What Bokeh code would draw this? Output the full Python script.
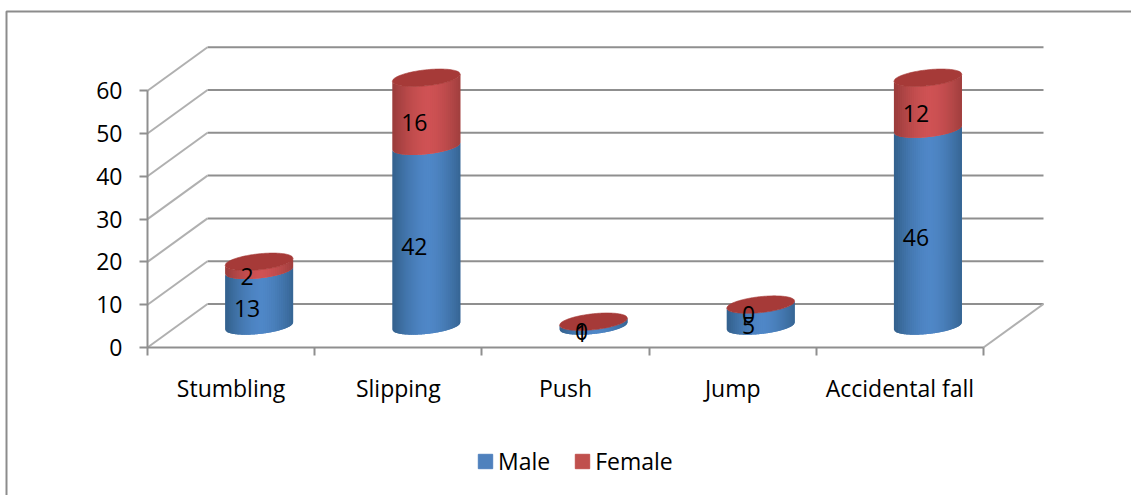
import numpy as np
from bokeh.core.properties import value
from bokeh.embed import file_html
from bokeh.models import ColumnDataSource, FixedTicker, Legend, LegendItem, Range1d
from bokeh.plotting import figure
from bokeh.resources import INLINE

categories = ["Stumbling", "Slipping", "Push", "Jump", "Accidental fall"]
male = [13, 42, 1, 5, 46]
female = [2, 16, 0, 0, 12]
y_ticks = [0, 10, 20, 30, 40, 50, 60]

FONT = "Open Sans"
TEXT_SIZE = "23px"
GRID = "#8f8f8f"

# Plot scale: pixels per category and per unit of value.
W, H = 1131, 495
LEFT, BOTTOM = 147, 148
PX_X = 167.2
PX_Y = 4.28

# Depth of the box, in data units.
DEPTH_X = 60 / PX_X
DEPTH_Y = 43.5 / PX_Y

# Cylinder geometry, in data units.
CYL_A = 34 / PX_X
CYL_B = 8 / PX_Y
CYL_TILT = 3.5 / PX_Y
CYL_X = 0.5 + 28 / PX_X
CYL_BASE = 21.5 / PX_Y

p = figure(
    width=W, height=H, output_backend="svg", toolbar_location=None,
    x_range=Range1d(-LEFT / PX_X, (W - LEFT) / PX_X),
    y_range=Range1d(-BOTTOM / PX_Y, (H - BOTTOM) / PX_Y),
    min_border=0, outline_line_color=None,
    background_fill_color="white", border_fill_color="white",
)
p.grid.visible = False

# Axes pinned to the front edge of the box.
xa, ya = p.xaxis[0], p.yaxis[0]
n = len(categories)
xa.fixed_location = 0
ya.fixed_location = 0
xa.ticker = FixedTicker(ticks=[i + 0.5 for i in range(n)], minor_ticks=list(range(n + 1)))
xa.major_label_overrides = {i + 0.5: c for i, c in enumerate(categories)}
xa.bounds = (0, n)
xa.major_tick_line_color = None
xa.major_tick_in, xa.major_tick_out = 0, 0
xa.minor_tick_in, xa.minor_tick_out = 0, 8
xa.minor_tick_line_color = GRID
xa.minor_tick_line_width = 2
xa.major_label_standoff = 16
ya.ticker = FixedTicker(ticks=y_ticks)
ya.bounds = (0, 60)
ya.major_tick_in, ya.major_tick_out = 0, 8
ya.major_tick_line_color = GRID
ya.major_tick_line_width = 2
ya.minor_tick_line_color = None
ya.major_label_standoff = 17
for ax in (xa, ya):
    ax.axis_line_color = GRID
    ax.axis_line_width = 2
    ax.major_label_text_font = FONT
    ax.major_label_text_font_size = TEXT_SIZE
    ax.major_label_text_color = "black"

# Back wall, side wall and floor.
yt = np.array(y_ticks, dtype=float)
p.segment(x0=DEPTH_X, x1=n + DEPTH_X, y0=yt + DEPTH_Y, y1=yt + DEPTH_Y, line_color=GRID, line_width=2)
p.segment(x0=0, x1=DEPTH_X, y0=yt, y1=yt + DEPTH_Y, line_color="#b0b0b0", line_width=2)
p.segment(x0=[n], x1=[n + DEPTH_X], y0=[0], y1=[DEPTH_Y], line_color="#b0b0b0", line_width=2)


def hex_mix(a, b, f):
    ca = [int(a[i:i + 2], 16) for i in (1, 3, 5)]
    cb = [int(b[i:i + 2], 16) for i in (1, 3, 5)]
    return "#%02x%02x%02x" % tuple(round(u + (v - u) * f) for u, v in zip(ca, cb))


STRIPS = 34
edges = np.linspace(-1, 1, STRIPS + 1)


def lower(t, level):
    return level + CYL_TILT * t - CYL_B * np.sqrt(np.clip(1 - t * t, 0, 1))


def upper(t, level):
    return level + CYL_TILT * t + CYL_B * np.sqrt(np.clip(1 - t * t, 0, 1))


def body(lo, hi, edge_col, mid_col):
    """Overlapping vertical strips that shade one cylinder segment from rim to centre."""
    xs, ys, cols = [], [], []
    for i, (a, b) in enumerate(zip(lo, hi)):
        cx = i + CYL_X
        for k in range(STRIPS):
            t0, t1 = edges[k], edges[min(k + 2, STRIPS)]
            tt = np.linspace(t0, t1, 6)
            px = cx + CYL_A * tt
            xs.append(np.r_[px, px[::-1]].tolist())
            ys.append(np.r_[lower(tt, CYL_BASE + a), lower(tt, CYL_BASE + b)[::-1]].tolist())
            f = max(0.0, 1 - abs((edges[k] + edges[k + 1]) / 2 - 0.05) ** 1.6)
            cols.append(hex_mix(edge_col, mid_col, f))
    src = ColumnDataSource(dict(xs=xs, ys=ys, c=cols))
    return p.patches("xs", "ys", source=src, fill_color="c", line_color=None)


tops = [m + f for m, f in zip(male, female)]
body([0] * n, male, "#34628f", "#4f87c7")
body(male, tops, "#9c3d3c", "#cf5254")

# Top faces of the stacks.
tt = np.linspace(-1, 1, 61)
lid_x, lid_y = [], []
for i, top in enumerate(tops):
    lid_x.append((i + CYL_X + CYL_A * np.r_[tt, tt[::-1]]).tolist())
    lid_y.append(np.r_[lower(tt, CYL_BASE + top), upper(tt, CYL_BASE + top)[::-1]].tolist())
p.patches(lid_x, lid_y, fill_color="#a63a38", line_color="#a63a38", line_width=0.6)

# Value labels, centred on each segment and nudged towards the front of the cylinder.
lab_x, lab_y, lab_t = [], [], []
for i in range(n):
    lab_x += [i + CYL_X, i + CYL_X]
    lab_y += [CYL_BASE + male[i] / 2, CYL_BASE + male[i] + female[i] / 2]
    lab_t += [str(male[i]), str(female[i])]
p.text(lab_x, lab_y, text=lab_t, x_offset=-12, y_offset=10, text_align="center",
       text_baseline="middle", text_font=value(FONT), text_font_size=TEXT_SIZE, text_color="black")

# Legend keys: off-range points only lend their colour to the legend.
nan = float("nan")
male_key = p.quad(left=[nan], right=[nan], top=[nan], bottom=[nan], fill_color="#4f81bd", line_color="#4f81bd")
female_key = p.quad(left=[nan], right=[nan], top=[nan], bottom=[nan], fill_color="#c0504d", line_color="#c0504d")
legend = Legend(
    items=[LegendItem(label="Male", renderers=[male_key]), LegendItem(label="Female", renderers=[female_key])],
    orientation="horizontal", location=(476, 18), margin=0, padding=0, spacing=23,
    glyph_width=18, glyph_height=18, label_standoff=4, border_line_color=None,
    background_fill_alpha=0, label_text_font=FONT, label_text_font_size=TEXT_SIZE,
    label_text_color="black",
)
p.add_layout(legend, "center")

# Chart area border along the left and top.
bx = (np.array([6, 6, W]) - LEFT) / PX_X
by = (H - BOTTOM - np.array([H, 11, 11])) / PX_Y
p.line(bx, by, line_color="#8c8c8c", line_width=2)

open("out.html", "w").write(file_html(p, INLINE))
